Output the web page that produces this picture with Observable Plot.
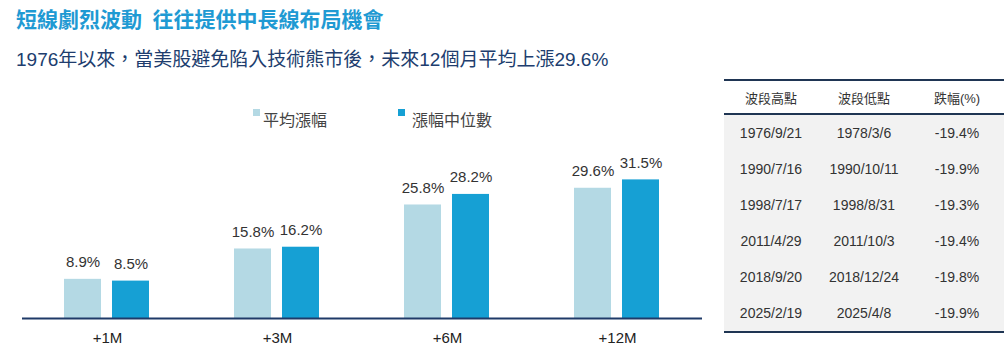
<!DOCTYPE html>
<html><head><meta charset="utf-8">
<script src="https://cdn.jsdelivr.net/npm/d3@7"></script>
<script src="https://cdn.jsdelivr.net/npm/@observablehq/plot@0.6"></script>
<style>
body{margin:0;background:#fff;font-family:"Liberation Sans","Noto Sans CJK TC",sans-serif;}
#wrap{position:relative;width:1006px;height:361px;overflow:hidden;background:#fff;}
#title{position:absolute;left:16px;top:3px;font-size:21px;font-weight:bold;color:#1f9ad3;font-family:"Noto Sans CJK TC",sans-serif;line-height:30px;white-space:nowrap;}
#subtitle{position:absolute;left:16px;top:46px;font-size:19px;color:#203d6e;line-height:28px;white-space:nowrap;font-family:"Liberation Sans","Noto Sans CJK TC",sans-serif;}
.leg{position:absolute;top:107px;font-size:16px;color:#444;line-height:24px;white-space:nowrap;font-family:"Noto Sans CJK TC",sans-serif;}
.sw{position:absolute;width:7px;height:7px;}
#chart{position:absolute;left:0;top:140px;}
#tbl{position:absolute;left:724px;top:79px;width:280px;border-collapse:collapse;font-family:"Liberation Sans","Noto Sans CJK TC",sans-serif;color:#333;table-layout:fixed;}
#tbl th{font-weight:normal;font-size:13px;height:32px;padding:0;text-align:center;border-top:2px solid #1f3553;border-bottom:2px solid #1f3553;background:#fff;}
#tbl td{font-size:14px;height:36px;padding:0;text-align:center;background:#f2f2f2;}
#tbl tr:last-child td{border-bottom:2px solid #1f3553;}
</style></head>
<body>
<div id="wrap">
  <div id="title"></div>
  <div id="subtitle"></div>
  <div id="legend"></div>
  <div id="chart"></div>
  <table id="tbl"></table>
</div>
<script>
const titleText = "短線劇烈波動\u2002往往提供中長線布局機會";
const subtitleText = "1976年以來，當美股避免陷入技術熊市後，未來12個月平均上漲29.6%";
const categories = ["+1M", "+3M", "+6M", "+12M"];
const seriesNames = ["平均漲幅", "漲幅中位數"];
const avgValues = [8.9, 15.8, 25.8, 29.6];
const medianValues = [8.5, 16.2, 28.2, 31.5];
const seriesColors = ["#b4d9e4", "#16a0d4"];
const tableHeaders = ["波段高點", "波段低點", "跌幅(%)"];
const peakDates = ["1976/9/21", "1990/7/16", "1998/7/17", "2011/4/29", "2018/9/20", "2025/2/19"];
const troughDates = ["1978/3/6", "1990/10/11", "1998/8/31", "2011/10/3", "2018/12/24", "2025/4/8"];
const drawdowns = [-19.4, -19.9, -19.3, -19.4, -19.8, -19.9];

document.getElementById("title").textContent = titleText;
document.getElementById("subtitle").textContent = subtitleText;

// legend
const legend = document.getElementById("legend");
const legPos = [{sw: 253, tx: 263}, {sw: 398, tx: 412}];
seriesNames.forEach((s, i) => {
  const sw = document.createElement("div");
  sw.className = "sw";
  sw.style.left = legPos[i].sw + "px";
  sw.style.top = "109px";
  sw.style.background = seriesColors[i];
  legend.appendChild(sw);
  const t = document.createElement("div");
  t.className = "leg";
  t.style.left = legPos[i].tx + "px";
  t.textContent = s;
  legend.appendChild(t);
});

const data = [];
categories.forEach((c, i) => {
  data.push({cat: c, series: seriesNames[0], value: avgValues[i]});
  data.push({cat: c, series: seriesNames[1], value: medianValues[i]});
});

const chart = Plot.plot({
  width: 710,
  height: 221,
  marginLeft: 22,
  marginRight: 8,
  marginTop: 24,
  marginBottom: 43,
  style: {fontFamily: "Liberation Sans, Noto Sans CJK TC, sans-serif", fontSize: "15px", color: "#222", background: "transparent"},
  fx: {domain: categories, padding: 0, label: null, axis: "bottom", tickSize: 0, tickPadding: 14},
  x: {domain: seriesNames, axis: null, paddingInner: 0.2245, paddingOuter: 0.847},
  y: {domain: [0, 35], axis: null},
  color: {domain: seriesNames, range: seriesColors},
  marks: [
    Plot.barY(data, {fx: "cat", x: "series", y: "value", fill: "series"}),
    Plot.text(data, {fx: "cat", x: "series", y: "value", text: d => d.value.toFixed(1) + "%", dy: -17, fontSize: 15, fill: "#333"}),
    Plot.ruleY([0], {stroke: "#1f3a68", strokeWidth: 2})
  ]
});
document.getElementById("chart").appendChild(chart);

// table
const tbl = document.getElementById("tbl");
const cg = document.createElement("colgroup");
[94, 92, 94].forEach(w => { const c = document.createElement("col"); c.style.width = w + "px"; cg.appendChild(c); });
tbl.appendChild(cg);
const thead = document.createElement("tr");
tableHeaders.forEach(h => { const th = document.createElement("th"); th.textContent = h; thead.appendChild(th); });
tbl.appendChild(thead);
peakDates.forEach((p, i) => {
  const tr = document.createElement("tr");
  [p, troughDates[i], drawdowns[i].toFixed(1) + "%"].forEach(v => {
    const td = document.createElement("td"); td.textContent = v; tr.appendChild(td);
  });
  tbl.appendChild(tr);
});
</script>
</body></html>
